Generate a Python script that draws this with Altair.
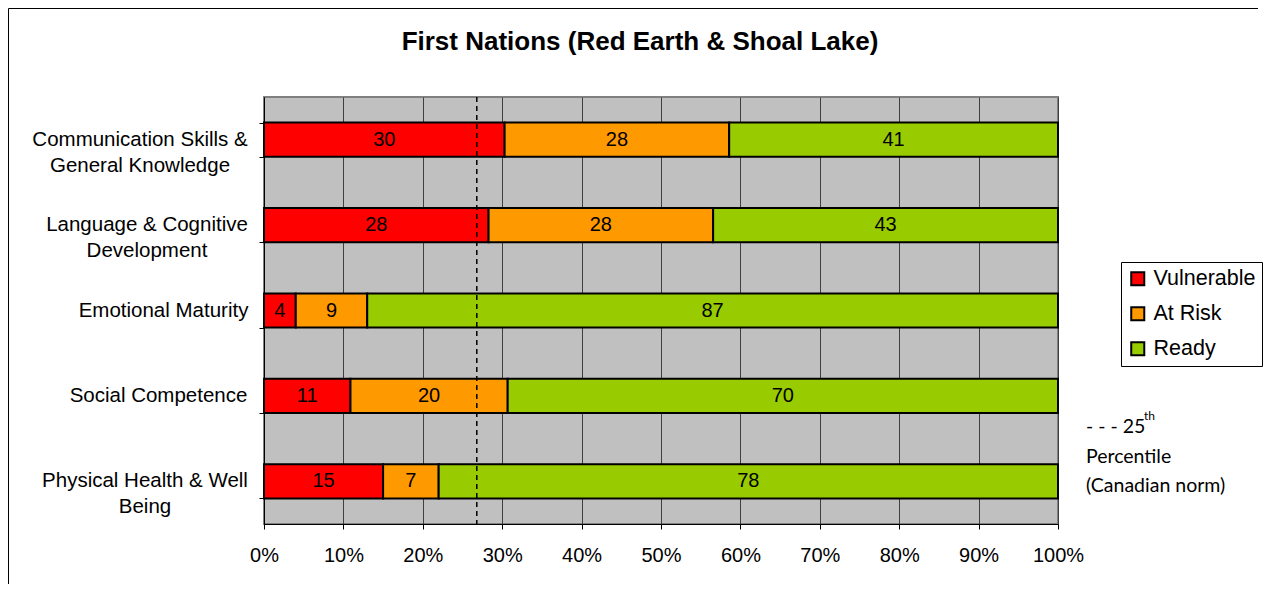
import altair as alt
import pandas as pd

# ---- data ----
categories = [
    "Communication Skills &\nGeneral Knowledge",
    "Language & Cognitive\nDevelopment",
    "Emotional Maturity",
    "Social Competence",
    "Physical Health & Well\nBeing",
]
statuses = ["Vulnerable", "At Risk", "Ready"]
vulnerable = [30, 28, 4, 11, 15]
at_risk = [28, 28, 9, 20, 7]
ready = [41, 43, 87, 70, 78]
norm_25th = 0.268
x_ticks = [0, 0.1, 0.2, 0.3, 0.4, 0.5, 0.6, 0.7, 0.8, 0.9, 1.0]
colors = ["#FF0000", "#FF9900", "#99CC00"]
title_text = "First Nations (Red Earth & Shoal Lake)"
note_lines = ["- - - 25", "th", "Percentile", "(Canadian norm)"]

rows = []
for i, c in enumerate(categories):
    for j, (s, vals) in enumerate(zip(statuses, [vulnerable, at_risk, ready])):
        rows.append({"category": c, "status": s, "value": vals[i], "order": j})
df = pd.DataFrame(rows)
cat_df = pd.DataFrame({"category": categories})

FONT = "Liberation Sans"
NOTE_FONT = "Lato"
W, H = 794, 427
# horizontal centre of each category label block, in px left of the axis
label_centres = [124, 117, 100.5, 105.5, 119]

y_scale = alt.Scale(domain=categories, paddingInner=0.6, paddingOuter=0.3)
x_scale = alt.Scale(domain=[0, 1], nice=False)

y_axis = alt.Axis(
    labels=False,
    tickBand="extent",
    tickSize=5,
    tickColor="black",
    domainColor="black",
    grid=False,
)

x_axis = alt.Axis(
    format=".0%",
    values=x_ticks,
    labelFont=FONT,
    labelFontSize=20,
    labelColor="black",
    labelPadding=16,
    labelFlush=False,
    labelOverlap=False,
    tickSize=5,
    tickColor="black",
    domainColor="black",
    grid=True,
    gridColor="#404040",
    gridWidth=1,
)

Y = dict(field="category", type="nominal", sort=categories, title=None, scale=y_scale, axis=y_axis)

base = alt.Chart(df)

bars = base.mark_bar(stroke="black", strokeWidth=2).encode(
    y=alt.Y(**Y),
    x=alt.X("value:Q", stack="normalize", title=None, scale=x_scale, axis=x_axis),
    color=alt.Color(
        "status:N",
        sort=statuses,
        scale=alt.Scale(domain=statuses, range=colors),
        legend=alt.Legend(
            title=None,
            orient="none",
            legendX=857,
            legendY=165,
            strokeColor="black",
            fillColor="white",
            padding=6,
            symbolType="square",
            symbolSize=170,
            symbolStrokeColor="black",
            symbolStrokeWidth=2,
            symbolOpacity=1,
            labelFont=FONT,
            labelFontSize=21.5,
            labelColor="black",
            labelOffset=5,
            rowPadding=12,
        ),
    ),
    order=alt.Order("order:Q"),
)

labels = (
    base.transform_stack(
        stack="value",
        as_=["x0", "x1"],
        groupby=["category"],
        sort=[alt.SortField("order", "ascending")],
        offset="normalize",
    )
    .transform_calculate(mid="(datum.x0 + datum.x1) / 2")
    .mark_text(font=FONT, fontSize=20, color="black", baseline="middle")
    .encode(
        x=alt.X("mid:Q", scale=x_scale, axis=x_axis, title=None),
        y=alt.Y(**Y),
        text=alt.Text("value:Q", format="d"),
    )
)

cat_labels = []
for c, d in zip(categories, label_centres):
    cat_labels.append(
        alt.Chart(cat_df)
        .transform_filter(alt.datum.category == c)
        .mark_text(font=FONT, fontSize=20.5, color="black", align="center",
                   baseline="middle", lineBreak="\n", lineHeight=26)
        .encode(
            x=alt.value(-d),
            y=alt.Y(**Y),
            text="category:N",
        )
    )

norm_rule = (
    alt.Chart(pd.DataFrame({"x": [norm_25th]}))
    .mark_rule(color="black", strokeDash=[5, 4], strokeWidth=1.5)
    .encode(x=alt.X("x:Q", scale=x_scale, axis=x_axis, title=None))
)

one = alt.Data(values=[{"k": 1}])


def note(text, x, y, size, font=NOTE_FONT, weight="normal", align="left"):
    return alt.Chart(one).mark_text(
        font=font, fontSize=size, fontWeight=weight, color="black",
        align=align, baseline="middle"
    ).encode(x=alt.value(x), y=alt.value(y), text=alt.value(text))


title = note(title_text, W / 2 - 21, -55, 26, font=FONT, weight="bold", align="center")

notes = [
    note(note_lines[0], 822, 330, 19.5),
    note(note_lines[1], 880, 319, 12),
    note(note_lines[2], 822, 360, 19.5),
    note(note_lines[3], 822, 389, 19.5),
]

frame_left = alt.Chart(one).mark_rule(color="black", strokeWidth=1).encode(
    x=alt.value(-255.5), y=alt.value(-88.5), y2=alt.value(H + 60)
)
frame_top = alt.Chart(one).mark_rule(color="black", strokeWidth=1).encode(
    x=alt.value(-255.5), x2=alt.value(W + 200), y=alt.value(-88.5)
)

chart = (
    alt.layer(bars, labels, norm_rule, *cat_labels, title, *notes, frame_left, frame_top)
    .properties(width=W, height=H, padding=0, background="white")
    .configure_view(fill="#C0C0C0", stroke="#808080", strokeWidth=2)
)

chart.save("out.html", embed_options={"renderer": "svg", "actions": False})
